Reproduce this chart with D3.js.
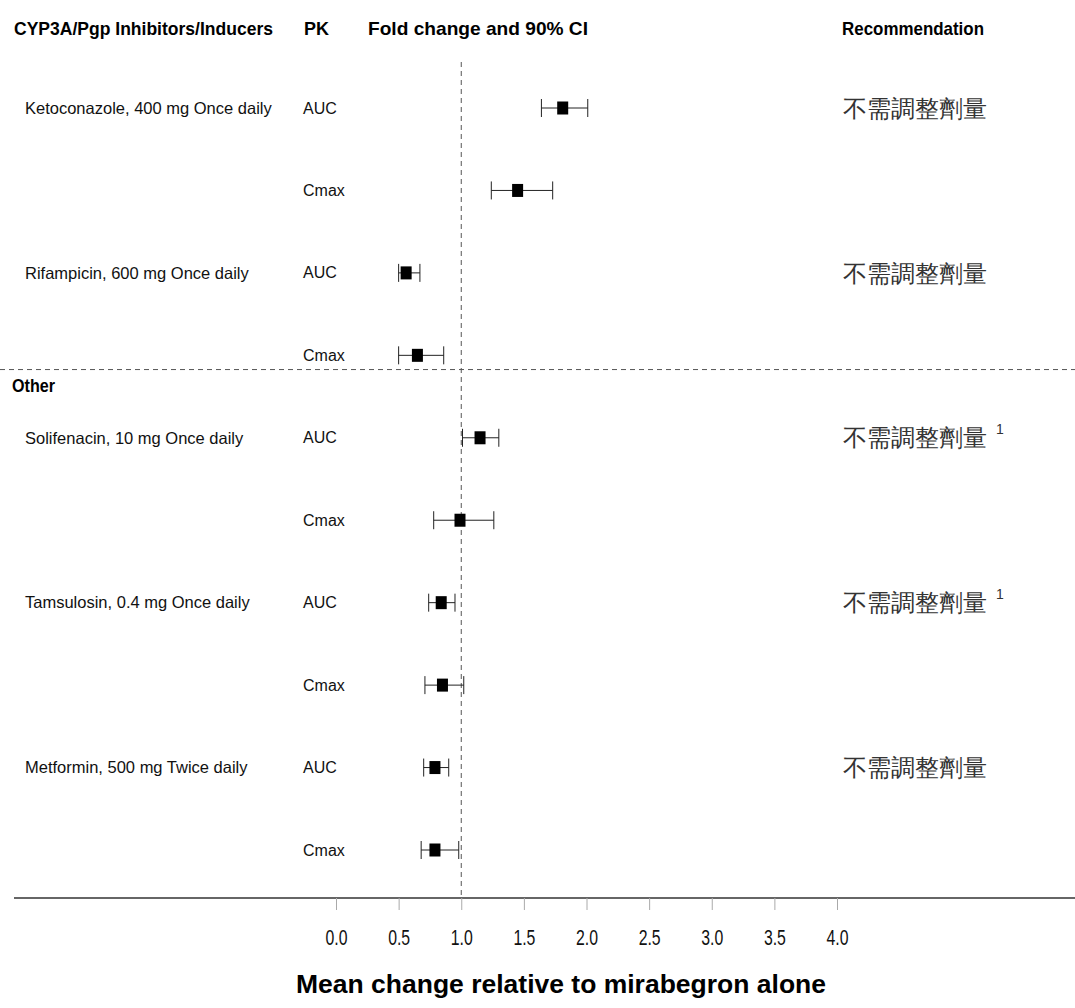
<!DOCTYPE html>
<html>
<head>
<meta charset="utf-8">
<script src="https://cdn.jsdelivr.net/npm/d3@7"></script>
<style>
  body { margin: 0; background: #fff; }
  text { font-family: "Liberation Sans", Arial, sans-serif; }
</style>
</head>
<body>
<svg id="chart" width="1075" height="1008"></svg>
<script>
// data
const drugs = ["Ketoconazole, 400 mg Once daily", "Rifampicin, 600 mg Once daily",
  "Solifenacin, 10 mg Once daily", "Tamsulosin, 0.4 mg Once daily", "Metformin, 500 mg Twice daily"];
const pkParams = ["AUC", "Cmax"];
const means = [1.81, 1.45, 0.56, 0.65, 1.15, 0.99, 0.84, 0.85, 0.79, 0.79];
const lower = [1.64, 1.24, 0.50, 0.50, 1.01, 0.78, 0.74, 0.71, 0.70, 0.68];
const upper = [2.01, 1.73, 0.67, 0.86, 1.30, 1.26, 0.95, 1.02, 0.90, 0.98];
const recs = ["不需調整劑量", "不需調整劑量", "不需調整劑量", "不需調整劑量", "不需調整劑量"];
const footnote = [false, false, true, true, false];
const tickVals = [0, 0.5, 1, 1.5, 2, 2.5, 3, 3.5, 4];

const svg = d3.select("#chart");

const x = d3.scaleLinear().domain([0, 4]).range([336, 837]);
const rowIdx = d3.range(means.length);
const y = d3.scalePoint().domain(rowIdx).range([108, 850]);

// headers (narrow bold font in the original, so squeeze to width)
const head = svg.append("g").attr("font-weight", "bold").attr("font-size", 19).attr("fill", "#000");
head.append("text").attr("x", 14).attr("y", 35).attr("textLength", 259)
  .attr("lengthAdjust", "spacingAndGlyphs").text("CYP3A/Pgp Inhibitors/Inducers");
head.append("text").attr("x", 304).attr("y", 35).attr("textLength", 25)
  .attr("lengthAdjust", "spacingAndGlyphs").text("PK");
head.append("text").attr("x", 368).attr("y", 35).attr("textLength", 220)
  .attr("lengthAdjust", "spacingAndGlyphs").text("Fold change and 90% CI");
head.append("text").attr("x", 842).attr("y", 35).attr("textLength", 142)
  .attr("lengthAdjust", "spacingAndGlyphs").text("Recommendation");

// reference line at 1
svg.append("line")
  .attr("x1", x(1)).attr("x2", x(1)).attr("y1", 62).attr("y2", 898)
  .attr("stroke", "#555").attr("stroke-dasharray", "5,4");

// group separator
const sepY = (y(3) + y(4)) / 2 - 27;
svg.append("line")
  .attr("x1", 0).attr("x2", 1075).attr("y1", sepY).attr("y2", sepY)
  .attr("stroke", "#555").attr("stroke-dasharray", "5,4");
svg.append("text").attr("x", 12).attr("y", sepY + 22)
  .attr("font-weight", "bold").attr("font-size", 19)
  .attr("textLength", 43).attr("lengthAdjust", "spacingAndGlyphs").text("Other");

// drug labels and recommendations
drugs.forEach(function (d, i) {
  const yy = y(i * 2);
  svg.append("text").attr("x", 25).attr("y", yy).attr("dy", "0.35em")
    .attr("font-size", 16.5).attr("fill", "#111").text(d);
  svg.append("text").attr("x", 843).attr("y", yy).attr("dy", "0.36em")
    .attr("font-family", "'Noto Sans CJK TC', sans-serif").attr("font-weight", 300)
    .attr("font-size", 24).attr("fill", "#333").text(recs[i]);
  if (footnote[i]) {
    svg.append("text").attr("x", 996).attr("y", yy - 4)
      .attr("font-family", "'Liberation Serif', serif")
      .attr("font-size", 14).attr("fill", "#333").text("1");
  }
});

// PK labels
svg.selectAll(".pk").data(rowIdx).join("text")
  .attr("class", "pk")
  .attr("x", 303).attr("y", d => y(d)).attr("dy", "0.35em")
  .attr("font-size", 16).attr("fill", "#111")
  .text(d => pkParams[d % 2]);

// CI bars
const ci = svg.append("g").attr("stroke", "#222").attr("stroke-width", 1);
ci.selectAll(".ci").data(rowIdx).join("line")
  .attr("x1", d => x(lower[d])).attr("x2", d => x(upper[d]))
  .attr("y1", d => y(d)).attr("y2", d => y(d));
ci.selectAll(".capl").data(rowIdx).join("line")
  .attr("x1", d => x(lower[d])).attr("x2", d => x(lower[d]))
  .attr("y1", d => y(d) - 9).attr("y2", d => y(d) + 9);
ci.selectAll(".capu").data(rowIdx).join("line")
  .attr("x1", d => x(upper[d])).attr("x2", d => x(upper[d]))
  .attr("y1", d => y(d) - 9).attr("y2", d => y(d) + 9);

svg.selectAll(".pt").data(rowIdx).join("rect")
  .attr("class", "pt")
  .attr("x", d => x(means[d]) - 5.5).attr("y", d => y(d) - 6.5)
  .attr("width", 11).attr("height", 13).attr("fill", "#000");

// x axis
const axisY = 898;
svg.append("line").attr("x1", 14).attr("x2", 1075).attr("y1", axisY).attr("y2", axisY)
  .attr("stroke", "#333").attr("stroke-width", 1.5);
const ax = svg.append("g").attr("transform", "translate(0," + axisY + ")")
  .call(d3.axisBottom(x).tickValues(tickVals).tickFormat(d3.format(".1f")).tickSize(12).tickPadding(19));
ax.select(".domain").remove();
ax.selectAll(".tick line").attr("stroke", "#aaa");
ax.selectAll(".tick text").attr("font-size", 22).attr("fill", "#111")
  .attr("font-family", "'Liberation Sans', sans-serif")
  .attr("textLength", 22).attr("lengthAdjust", "spacingAndGlyphs");

svg.append("text").attr("x", 561).attr("y", 993)
  .attr("text-anchor", "middle").attr("font-weight", "bold").attr("font-size", 26)
  .attr("textLength", 530).attr("lengthAdjust", "spacingAndGlyphs")
  .text("Mean change relative to mirabegron alone");
</script>
</body>
</html>
